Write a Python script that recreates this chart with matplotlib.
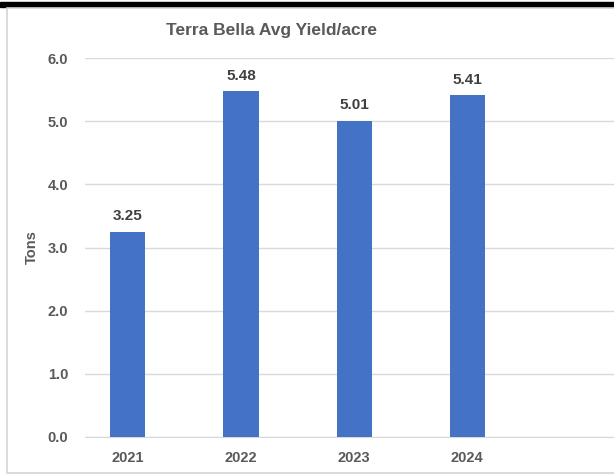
import matplotlib
matplotlib.use("Agg")
import matplotlib.pyplot as plt
from matplotlib.patches import Rectangle

years = ["2021", "2022", "2023", "2024"]
yields = [3.25, 5.48, 5.01, 5.41]
y_ticks = [0.0, 1.0, 2.0, 3.0, 4.0, 5.0, 6.0]

plt.rcParams['font.family'] = ['Liberation Sans', 'DejaVu Sans']

W, H = 614, 476
fig = plt.figure(figsize=(W / 100, H / 100), dpi=100)

# screenshot frame: black band at top and the light chart border
fig.patches.append(Rectangle((0, 1 - 7 / H), 1, 5 / H, transform=fig.transFigure,
                             color="black", zorder=0))
fig.patches.append(Rectangle((7 / W, 1 - 473 / H), 1, (473 - 8) / H,
                             transform=fig.transFigure, facecolor="white",
                             edgecolor="#d4d4d4", linewidth=1.2, zorder=0))

ax = fig.add_axes([85 / W, 1 - 437 / H, 1 - 85 / W, (437 - 58) / H])
ax.set_zorder(2)
ax.patch.set_alpha(0)

x = range(len(years))
bars = ax.bar(x, yields, width=0.31, color="#4472C4", zorder=3)

for xi, v in zip(x, yields):
    ax.annotate(f"{v:.2f}", (xi, v), xytext=(0, 6), textcoords="offset points",
                ha="center", va="bottom", fontsize=11, fontweight="bold",
                color="#404040")

ax.set_ylim(0, 6)
ax.set_xlim(-0.38, 4.3)
ax.set_yticks(y_ticks)
ax.set_yticklabels([f"{t:.1f}" for t in y_ticks])
ax.set_xticks(list(x))
ax.set_xticklabels(years)
ax.yaxis.grid(True, color="#d9d9d9", linewidth=1, zorder=0)
ax.tick_params(axis="both", length=0, labelsize=10.5, labelcolor="#595959")
ax.tick_params(axis="y", pad=12)
ax.tick_params(axis="x", pad=10)
for lab in ax.get_xticklabels() + ax.get_yticklabels():
    lab.set_fontweight("bold")

for s in ["top", "right", "left"]:
    ax.spines[s].set_visible(False)
ax.spines["bottom"].set_color("#d9d9d9")

fig.text(32 / W, 1 - 247 / H, "Tons", rotation=90, ha="center", va="center",
         fontsize=10.5, fontweight="bold", color="#595959")
fig.text(271 / W, 1 - 30 / H, "Terra Bella Avg Yield/acre", ha="center",
         va="center", fontsize=12.5, fontweight="bold", color="#595959")

fig.savefig("out.png", dpi=100)
